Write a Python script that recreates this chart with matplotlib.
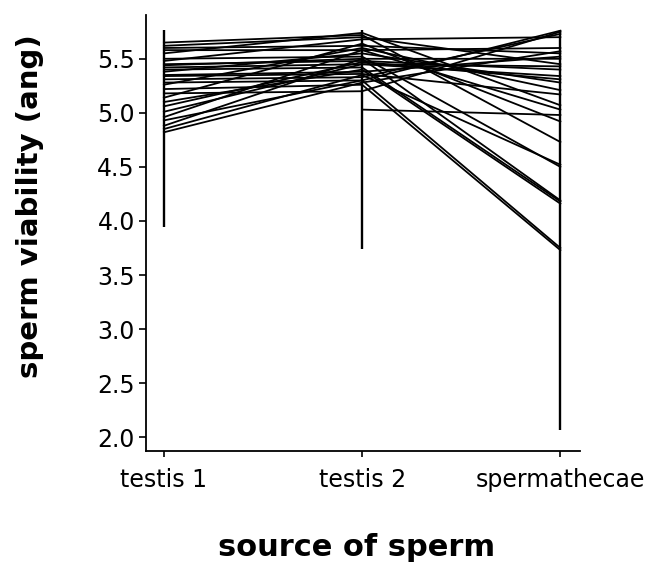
import numpy as np
import matplotlib.pyplot as plt

plt.rcParams['font.family'] = ['DejaVu Sans']

# categories on the x axis
sources = ['testis 1', 'testis 2', 'spermathecae']

# sperm viability (angular) per individual
# (nan = no value for that source)
testis1 = [5.65, 5.62, 5.60, 5.58, 5.55, 5.50, 5.45, 5.44, 5.42, 5.40,
           5.38, 5.35, 5.34, 5.31, 5.28, 5.26, 5.22, 5.18, 5.14, 5.10,
           np.nan, 5.01, 4.96, 4.93, 4.88, 4.85, 4.82, 5.48, 5.06]
testis2 = [5.72, 5.70, 5.62, 5.58, 5.74, 5.52, 5.48, 5.50, 5.45, 5.42,
           5.55, 5.38, 5.36, 5.33, 5.30, 5.60, 5.26, 5.20, 5.64, 5.40,
           5.03, 5.45, 5.58, 5.30, 5.50, 5.35, 5.28, 5.68, 5.47]
sperm = [4.73, 5.45, 5.55, 5.60, 5.07, 4.50, 5.40, 4.19, 5.34, 4.18,
         5.28, 5.52, 5.17, 5.73, 3.75, 5.21, 3.73, 5.75, 4.92, 4.16,
         4.98, 5.43, 5.03, 5.76, 5.50, 4.52, 5.57, 5.70, 5.31]

# range bars drawn at each source
range_low = [3.94, 3.74, 2.07]
range_high = [5.77, 5.77, 5.77]

fig = plt.figure(figsize=(6.49, 5.69), dpi=100)
ax = fig.add_axes([0.225, 0.207, 0.669, 0.767])

xs = np.arange(len(sources))
for a, b, c in zip(testis1, testis2, sperm):
    ax.plot(xs, [a, b, c], color='black', lw=1.3)

ax.vlines(xs, range_low, range_high, color='black', lw=1.7)

ax.set_xlim(-0.09, 2.1)
ax.set_ylim(1.87, 5.907)
yt = np.arange(2.0, 5.51, 0.5)
ax.set_xticks(xs)
ax.set_xticklabels(sources, fontsize=17)
ax.set_yticks(yt)
ax.set_yticklabels([f'{v:.1f}' for v in yt], fontsize=17)
ax.tick_params(axis='x', direction='out', length=4, width=1.2, pad=8)
ax.tick_params(axis='y', direction='out', length=5, width=1.2, pad=3)

for s in ['top', 'right']:
    ax.spines[s].set_visible(False)
for s in ['left', 'bottom']:
    ax.spines[s].set_linewidth(1.3)

fig.text(0.046, 0.638, 'sperm viability (ang)', rotation=90, fontsize=21,
         fontweight='bold', ha='center', va='center')
fig.text(0.549, 0.037, 'source of sperm', fontsize=22, fontweight='bold',
         ha='center', va='center')

fig.savefig('out.png', dpi=100)
